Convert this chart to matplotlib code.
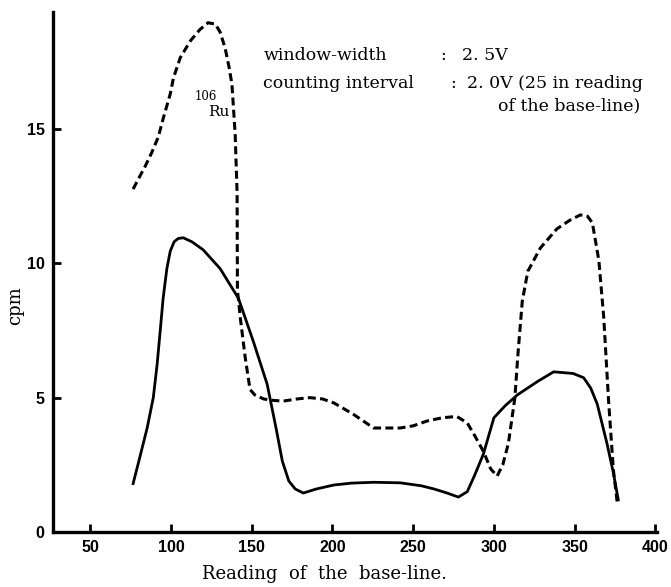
import matplotlib
matplotlib.use("Agg")
import matplotlib.pyplot as plt

W, H = 671, 587

# solid curve
solid_x = [76.6, 80, 85.3, 89.1, 91.5, 93.4, 95.2, 97.5, 99.6, 102, 104.5, 107.6, 113, 120,
           130.5, 141.8, 151, 159.6, 165, 169, 173, 177, 182, 190, 201, 212, 225.5, 242, 255,
           263, 271, 278, 283.5, 288, 293.5, 300, 307, 314.5, 327, 337, 349, 355.6, 360, 364,
           370, 374, 377]
solid_y = [1.8, 2.6, 3.87, 5.0, 6.25, 7.5, 8.7, 9.8, 10.45, 10.8, 10.92, 10.95, 10.8, 10.5,
           9.8, 8.7, 7.1, 5.5, 3.9, 2.64, 1.9, 1.6, 1.45, 1.6, 1.75, 1.82, 1.85, 1.83, 1.72,
           1.6, 1.45, 1.3, 1.5, 2.1, 2.9, 4.25, 4.7, 5.1, 5.6, 5.96, 5.9, 5.74, 5.35, 4.76,
           3.3, 2.2, 1.2]

# dashed curve (106Ru)
ru_x = [76.6, 80, 84, 88, 92.2, 95.3, 99.6, 101.6, 105.8, 112, 118, 123, 127.5, 130.5, 133.6,
        136, 137.8, 139.8, 141, 141.2, 143, 146, 149, 152, 157.5, 163, 169.5, 178, 186, 194,
        201, 213, 225.5, 233, 242, 250, 258.6, 268, 277, 283.5, 288, 293.5, 298, 302, 305.5,
        309, 313, 315, 317.6, 321, 328.8, 339, 347, 353.6, 358, 361, 365, 368, 371, 374, 376.5]
ru_y = [12.76, 13.15, 13.6, 14.1, 14.7, 15.4, 16.3, 16.9, 17.65, 18.27, 18.7, 18.95, 18.9, 18.6,
        18.0, 17.3, 16.66, 14.8, 12.6, 9.0, 7.96, 6.5, 5.3, 5.1, 4.95, 4.9, 4.87, 4.95, 5.0,
        4.95, 4.8, 4.38, 3.87, 3.87, 3.87, 3.95, 4.13, 4.25, 4.3, 4.06, 3.6, 3.0, 2.35, 2.08,
        2.5, 3.3, 5.0, 6.7, 8.6, 9.7, 10.57, 11.28, 11.6, 11.8, 11.75, 11.5, 10.1, 8.0, 4.9,
        2.3, 1.03]

x_ticks = [50, 100, 150, 200, 250, 300, 350, 400]
y_ticks = [0, 5, 10, 15]

serif = ["DejaVu Serif"]
tickfont = ["Liberation Sans Narrow", "Liberation Sans", "DejaVu Sans"]


def fx(px):
    return px / W


def fy(py):
    return 1 - py / H


fig = plt.figure(figsize=(W / 100, H / 100), dpi=100)
ax = fig.add_axes([fx(53), fy(532), fx(657) - fx(53), fy(12) - fy(532)])

ax.plot(solid_x, solid_y, color="k", lw=2.0, solid_joinstyle="round")
ax.plot(ru_x, ru_y, color="k", lw=2.2, dashes=(2.6, 1.4))

ax.set_xlim(27, 401)
ax.set_ylim(0, 19.35)
for s in ["top", "right"]:
    ax.spines[s].set_visible(False)
for s in ["left", "bottom"]:
    ax.spines[s].set_linewidth(2.4)

ax.set_xticks(x_ticks)
ax.set_yticks(y_ticks)
ax.tick_params(direction="in", length=6, width=2, pad=6)
for lab in ax.get_xticklabels() + ax.get_yticklabels():
    lab.set_family(tickfont)
    lab.set_fontweight("bold")
    lab.set_fontsize(11.5)

# axis titles
fig.text(fx(325), fy(574), "Reading  of  the  base-line.", family=serif, fontsize=13,
         ha="center", va="center")
fig.text(fx(15), fy(306), "cpm", family=serif, fontsize=13, rotation=90,
         ha="center", va="center")

# annotation text
fs = 12.5
fig.text(fx(264), fy(56), "window-width", family=serif, fontsize=fs, va="center")
fig.text(fx(440), fy(56), ":", family=serif, fontsize=fs, va="center")
fig.text(fx(462), fy(56), "2. 5V", family=serif, fontsize=fs, va="center")
fig.text(fx(263), fy(84), "counting interval", family=serif, fontsize=fs, va="center")
fig.text(fx(450), fy(84), ":", family=serif, fontsize=fs, va="center")
fig.text(fx(643), fy(84), "2. 0V (25 in reading", family=serif, fontsize=fs,
         va="center", ha="right")
fig.text(fx(640), fy(106), "of the base-line)", family=serif, fontsize=fs,
         va="center", ha="right")

fig.text(fx(206), fy(97), "106", family=serif, fontsize=8.5, va="center", ha="center")
fig.text(fx(219), fy(112), "Ru", family=serif, fontsize=11, va="center", ha="center")

fig.savefig("out.png", dpi=100)
